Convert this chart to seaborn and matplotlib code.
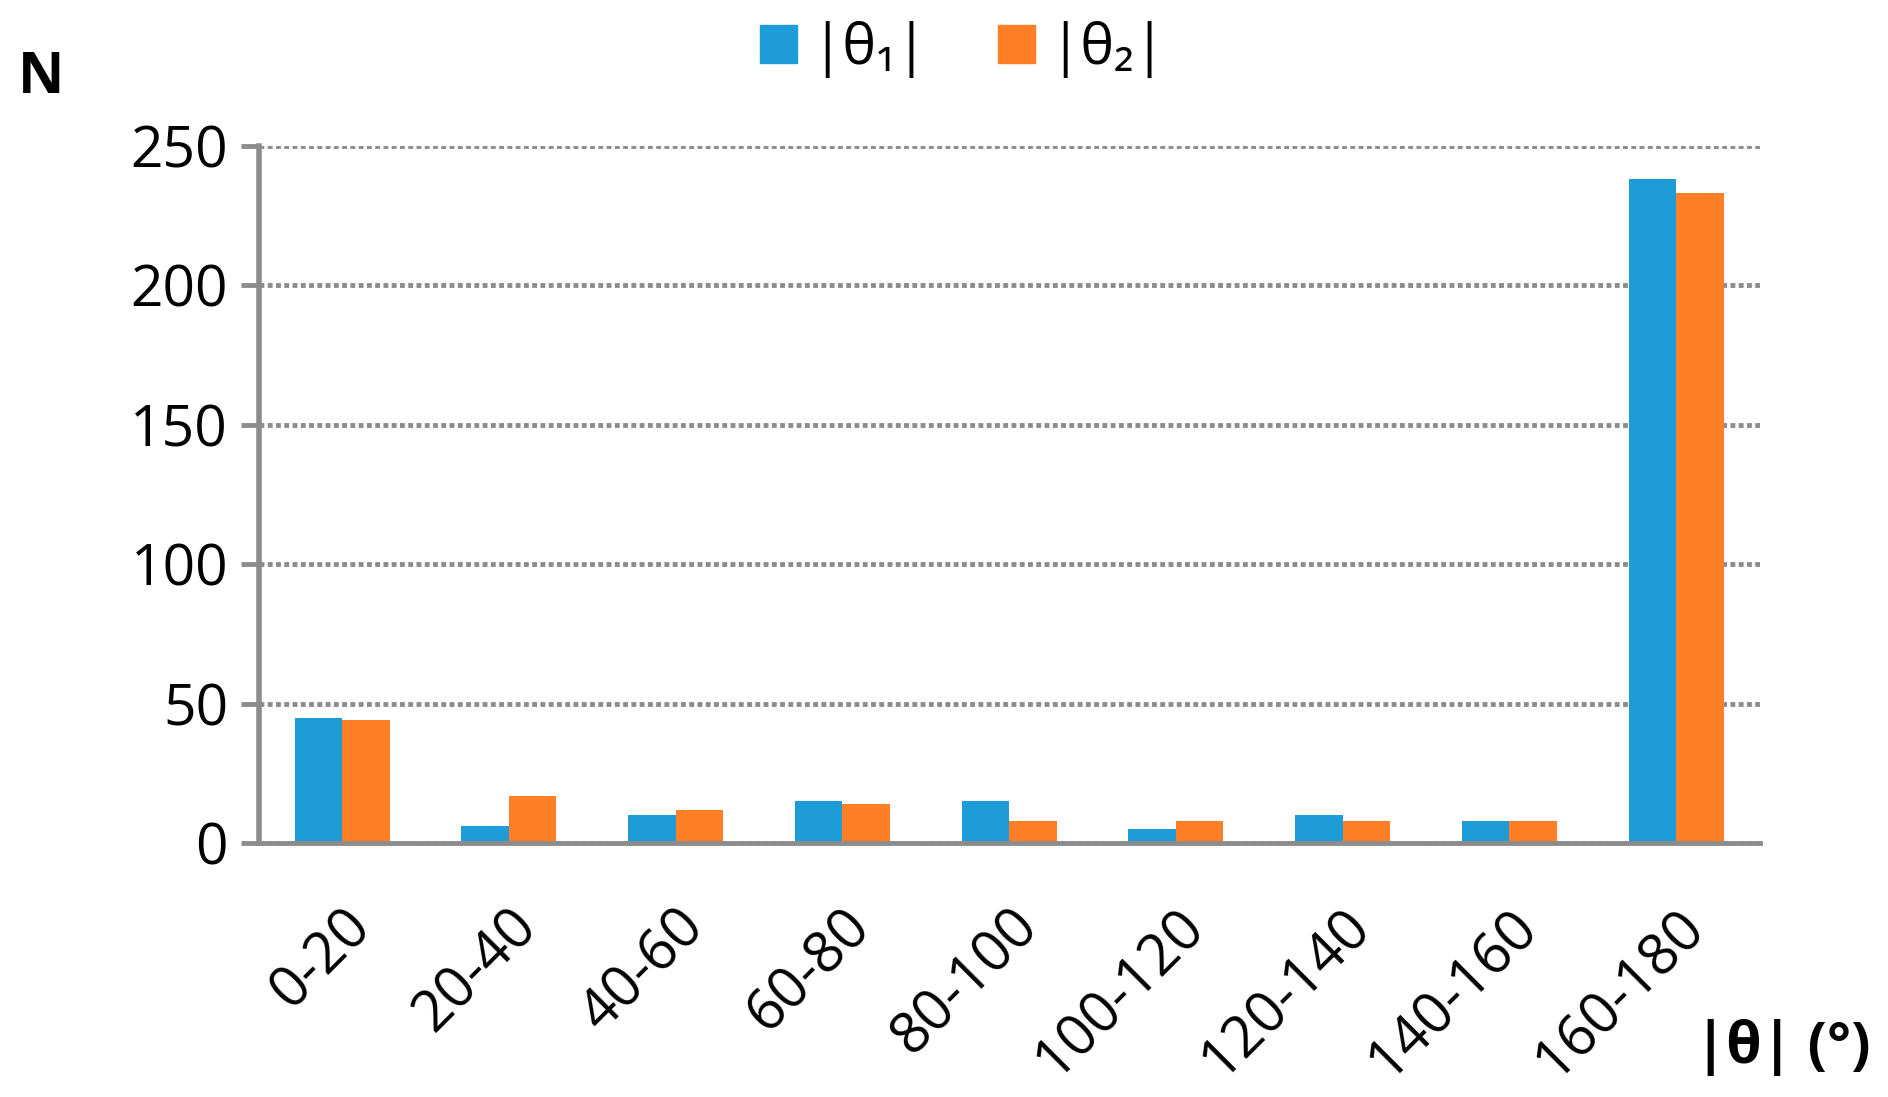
import pandas as pd
import matplotlib
matplotlib.use('Agg')
import matplotlib.pyplot as plt
import seaborn as sns

# histogram of |theta| per bin
bins = ['0-20', '20-40', '40-60', '60-80', '80-100', '100-120', '120-140', '140-160', '160-180']
theta1 = [45, 6, 10, 15, 15, 5, 10, 8, 238]
theta2 = [44, 17, 12, 14, 8, 8, 8, 8, 233]
series = ['|θ₁|', '|θ₂|']
colors = ['#1E9CD8', '#FF7F27']

df = pd.DataFrame({
    'bin': bins * 2,
    'N': theta1 + theta2,
    'series': [series[0]] * len(bins) + [series[1]] * len(bins),
})

sns.set_style('white')
plt.rcParams['font.family'] = ['Open Sans', 'DejaVu Sans']
plt.rcParams['text.color'] = 'black'

fig = plt.figure(figsize=(18.88, 10.97), dpi=100)
ax = fig.add_axes([0.137, 0.2315, 0.795, 0.6355])

sns.barplot(data=df, x='bin', y='N', hue='series', palette=colors,
            width=0.57, saturation=1, ax=ax, legend=False, linewidth=0)

grey = '#8C8C8C'
ax.set_ylim(0, 250)
ax.set_xlim(-0.5, len(bins) - 0.5)
ax.set_yticks([0, 50, 100, 150, 200, 250])
ax.yaxis.grid(True, color=grey, linestyle=(0, (1.0, 0.7)), linewidth=3.5)
ax.set_axisbelow(True)
for s in ['top', 'right']:
    ax.spines[s].set_visible(False)
ax.spines['left'].set_color(grey)
ax.spines['left'].set_linewidth(4)
ax.spines['bottom'].set_color(grey)
ax.spines['bottom'].set_linewidth(3.5)
ax.spines['bottom'].set_zorder(5)
ax.tick_params(axis='y', length=13, width=3.5, color=grey, labelsize=41,
               labelcolor='black', pad=9, left=True)
ax.tick_params(axis='x', length=0, labelsize=41, labelcolor='black', pad=40)
plt.setp(ax.get_xticklabels(), rotation=45, ha='right', rotation_mode='anchor')
ax.set_xlabel('')
ax.set_ylabel('')

# legend at top
handles = [plt.Rectangle((0, 0), 1, 1, color=c) for c in colors]
fig.legend(handles, series, loc='center', bbox_to_anchor=(0.510, 0.955), ncol=2,
           frameon=False, fontsize=41, handlelength=0.65, handleheight=0.65,
           columnspacing=1.25, handletextpad=0.25)

fig.text(0.022, 0.929, 'N', fontsize=41, fontweight='bold', ha='center', va='center')
fig.text(0.944, 0.045, '|θ| (°)', fontsize=41, fontweight='bold', ha='center', va='center')

fig.savefig('out.png', dpi=100)
